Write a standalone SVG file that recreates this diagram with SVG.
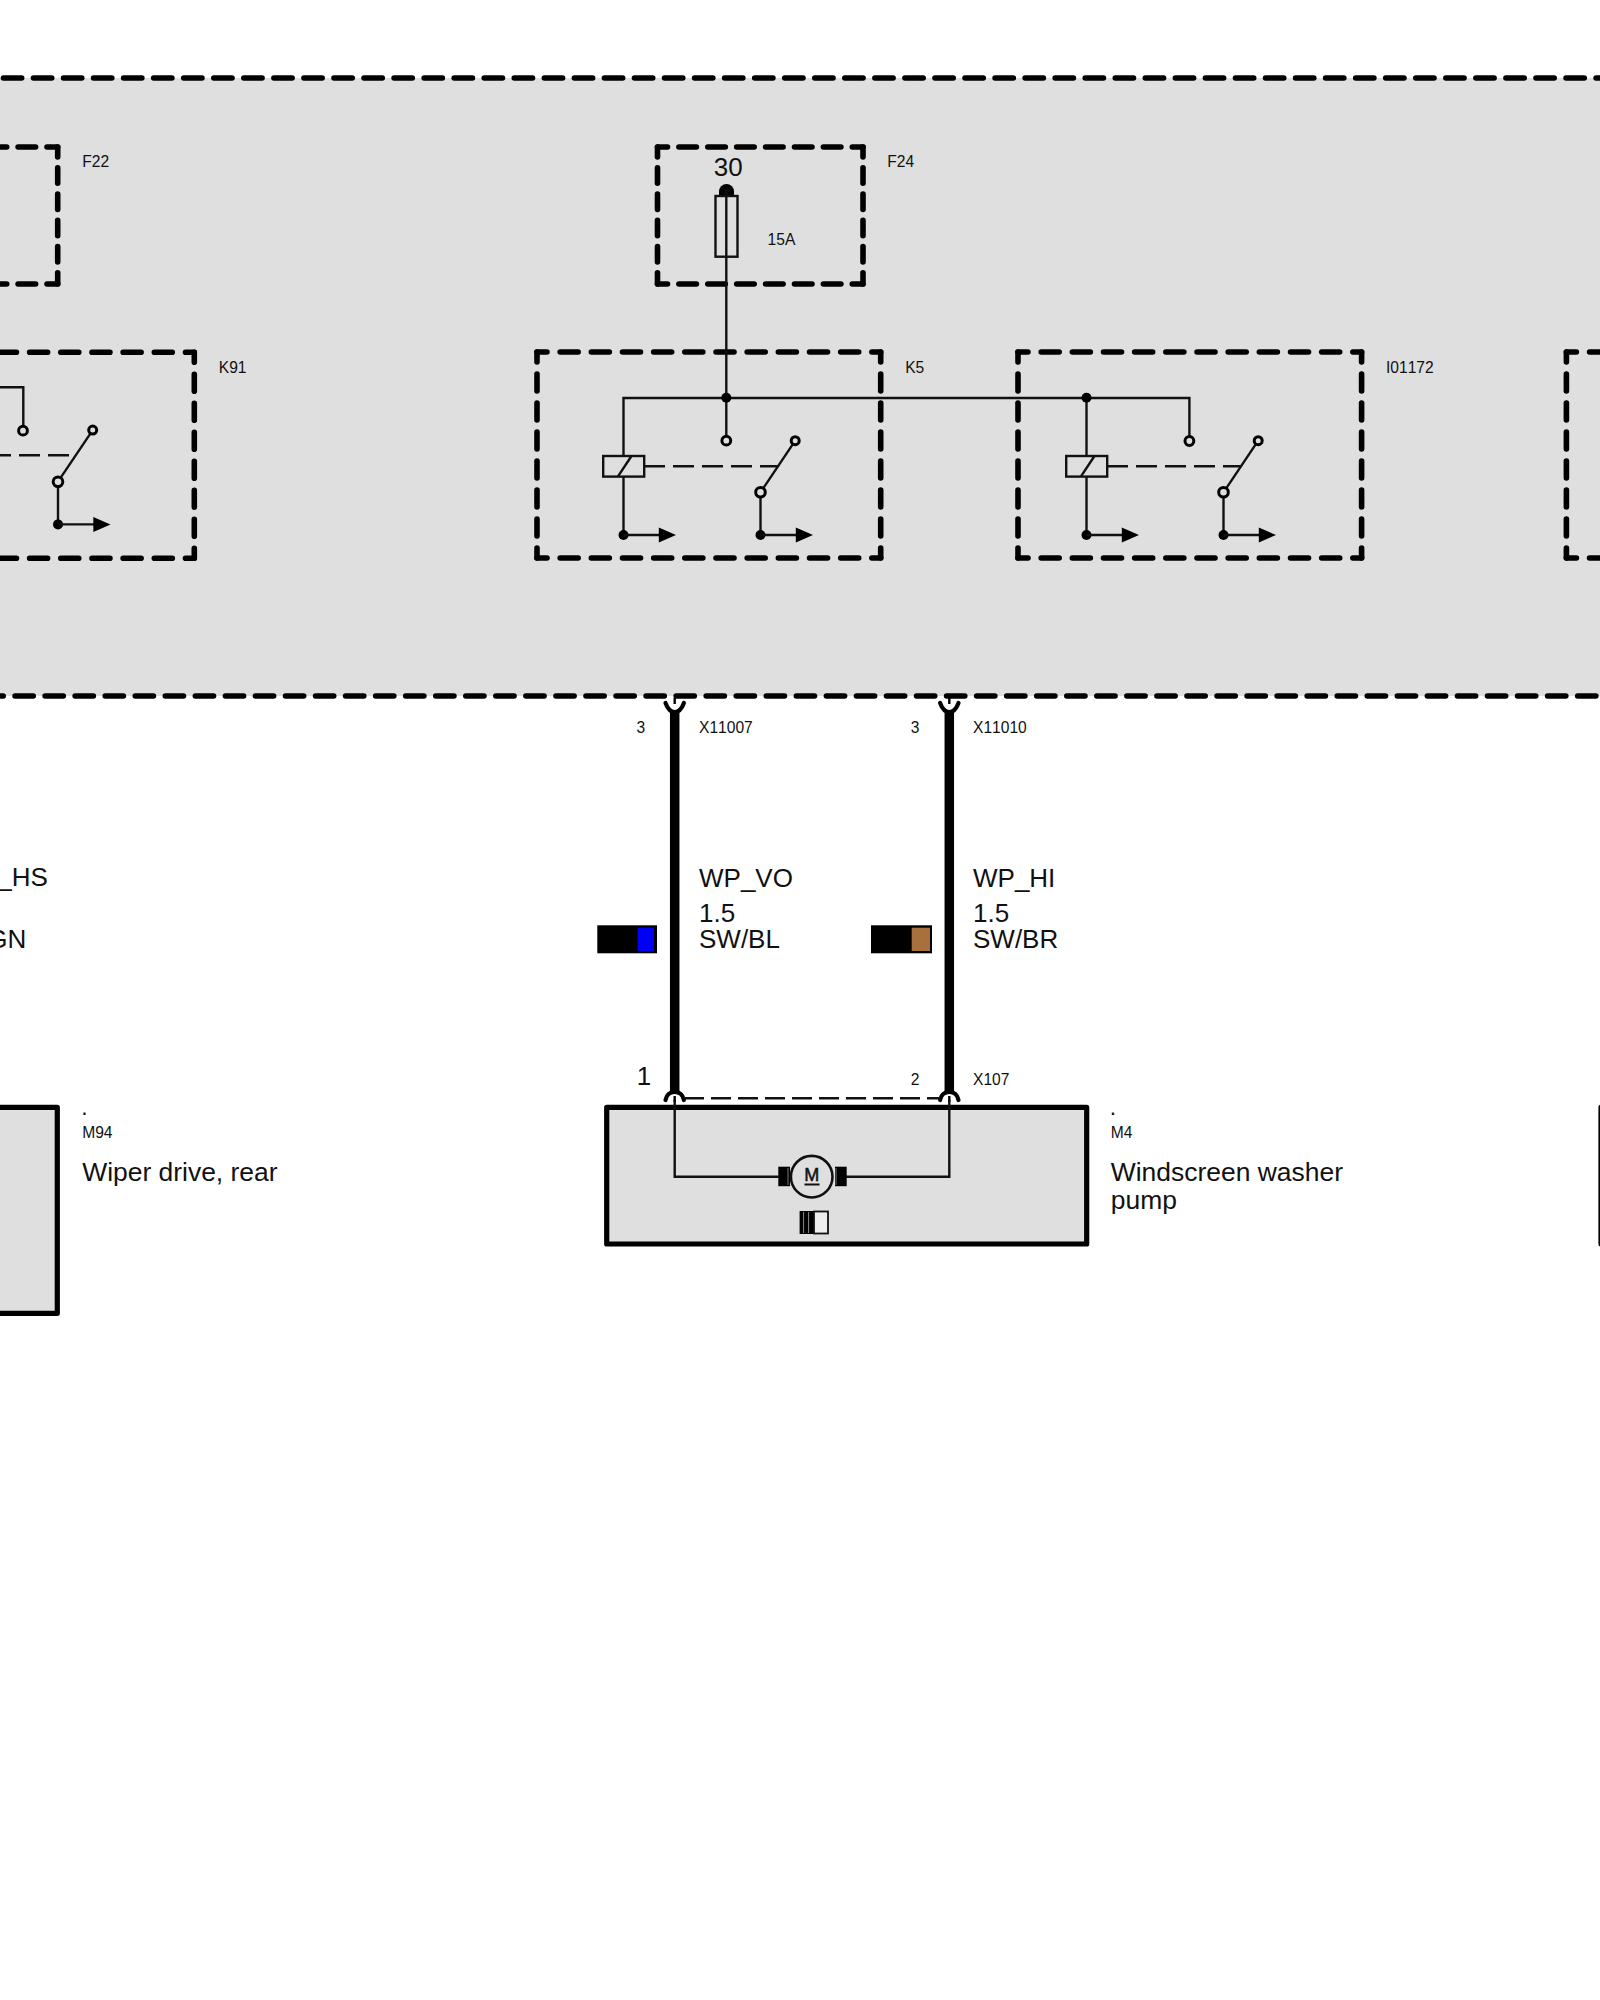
<svg xmlns="http://www.w3.org/2000/svg" xmlns:xlink="http://www.w3.org/1999/xlink" width="1600" height="2000" viewBox="0 0 1600 2000">
<style>
text{font-family:"Liberation Sans",Arial,sans-serif;fill:#111;font-kerning:none}
.s{font-size:15.6px}
.b{font-size:26px}
.n{font-size:26.45px}
.w{fill:none;stroke:#111;stroke-width:2.4}
.d{fill:none;stroke:#000;stroke-width:5.6;stroke-linecap:round;stroke-linejoin:miter}
.dash{fill:none;stroke:#111;stroke-width:2.4;stroke-dasharray:21 8}
.hv{fill:none;stroke:#000;stroke-width:9.5}
.cup{fill:none;stroke:#000;stroke-width:4.2;stroke-linecap:round}
.o{fill:#dfdfdf;stroke:#000;stroke-width:3}
.box{fill:#dfdfdf;stroke:#000;stroke-width:5.2;stroke-linejoin:round}
</style>
<defs>
<g id="ground"><circle r="5" fill="#000"/><line x2="36" class="w"/><path d="M35.3-7.5L52.5 0 35.3 7.5Z" fill="#000"/></g>
<g id="contact"><line x2="34.7" y2="-51.6" class="w"/><line y2="42.7" class="w"/><circle cx="34.7" cy="-51.6" r="4" class="o"/><circle r="4.8" class="o"/><use xlink:href="#ground" href="#ground" y="42.7"/></g>
<g id="coil"><line y1="58" y2="137" class="w"/><rect x="-20.3" y="58" width="41" height="20.6" fill="#dfdfdf" stroke="#111" stroke-width="2.4"/><line x1="-5.5" y1="78.4" x2="8" y2="58" class="w"/><use xlink:href="#ground" href="#ground" y="137"/></g>
<g id="cup"><path d="M-9.2 5C-7 11-3.5 14 0 14S7 11 9.2 5" class="cup"/><line y1="0" y2="6" stroke="#000" stroke-width="2.4"/></g>
<g id="cupu"><path d="M-9.2 7C-8 1-4 -1 0 -1S8 1 9.2 7" class="cup"/><line y1="3" y2="9" stroke="#000" stroke-width="2.4"/></g>
</defs>
<rect width="1600" height="2000" fill="#fff"/>

<g id="control-unit">
<rect x="0" y="78" width="1600" height="618" fill="#dfdfdf"/>
<line x1="0" y1="78" x2="1600" y2="78" class="d" stroke-dasharray="18.2 11.85" stroke-dashoffset="26.6"/>
<line x1="0" y1="696" x2="1600" y2="696" class="d" stroke-dasharray="18.2 11.85" stroke-dashoffset="15"/>
</g>

<g id="F22">
<path d="M-147.8 147H57.7M-147.8 284H57.7" class="d" stroke-dasharray="17.5 11.4" stroke-dashoffset="7.5"/>
<path d="M57.7 147V284" class="d" stroke-dasharray="15.5 10.75" stroke-dashoffset="5.5"/>
<text x="82.2" y="166.7" class="s">F22</text>
</g>

<g id="K91">
<path d="M-149.4 352.3H194.3M-149.4 558.3H194.3" class="d" stroke-dasharray="18 13.17" stroke-dashoffset="8"/>
<path d="M194.3 352.3V558.3" class="d" stroke-dasharray="17 12" stroke-dashoffset="7"/>
<path d="M0 387.3H23.3V430" class="w"/>
<circle cx="23" cy="430.7" r="4.4" class="o"/>
<line x1="0" y1="455.3" x2="75" y2="455.3" class="dash" stroke-dashoffset="10"/>
<use xlink:href="#contact" href="#contact" x="58" y="481.7"/>
<text x="218.8" y="373.3" class="s">K91</text>
</g>

<g id="F24">
<path d="M657.5 147H863M657.5 284H863" class="d" stroke-dasharray="17.5 11.4" stroke-dashoffset="7.5"/>
<path d="M657.5 147V284M863 147V284" class="d" stroke-dasharray="15.5 10.75" stroke-dashoffset="5.5"/>
<path d="M719 196V191.5A7.5 7.5 0 0 1 734 191.5V196Z" fill="#000"/>
<rect x="715.5" y="196" width="22" height="60.7" fill="none" stroke="#111" stroke-width="2.4"/>
<text x="713.8" y="176" class="b">30</text>
<text x="767.6" y="245.3" class="s">15A</text>
<text x="887.2" y="166.7" class="s">F24</text>
</g>

<g id="K5">
<path d="M537 352H880.7M537 558H880.7" class="d" stroke-dasharray="18 13.17" stroke-dashoffset="8"/>
<path d="M537 352V558M880.7 352V558" class="d" stroke-dasharray="17 12" stroke-dashoffset="7"/>
<text x="905.2" y="372.7" class="s">K5</text>
</g>

<g id="I01172">
<path d="M1018 352H1361.6M1018 558H1361.6" class="d" stroke-dasharray="18 13.17" stroke-dashoffset="8"/>
<path d="M1018 352V558M1361.6 352V558" class="d" stroke-dasharray="17 12" stroke-dashoffset="7"/>
<text x="1386" y="373.3" class="s">I01172</text>
</g>

<g id="next-relay">
<path d="M1566.4 352H1600M1566.4 558H1600" class="d" stroke-dasharray="18 13.17" stroke-dashoffset="8"/>
<path d="M1566.4 352V558" class="d" stroke-dasharray="17 12" stroke-dashoffset="7"/>
</g>

<g id="M94">
<rect x="-200" y="1107.3" width="257.3" height="206" class="box"/>
<text x="82.2" y="1115" class="s" font-weight="bold">.</text>
<text x="82.2" y="1138" class="s">M94</text>
<text x="82.2" y="1180.7" class="n">Wiper drive, rear</text>
</g>

<g id="M4">
<rect x="606.7" y="1107.3" width="480" height="136.7" class="box"/>
<g id="motor">
<rect x="778.3" y="1166.7" width="11.7" height="19.5" fill="#000"/>
<rect x="835" y="1166.7" width="11.7" height="19.5" fill="#000"/>
<line x1="788" y1="1168" x2="788" y2="1185" stroke="#777" stroke-width="1"/>
<line x1="836" y1="1168" x2="836" y2="1185" stroke="#777" stroke-width="1"/>
<circle cx="811.7" cy="1176.7" r="20.8" fill="#dfdfdf" stroke="#111" stroke-width="2.6"/>
<text x="811.7" y="1180.7" text-anchor="middle" style="font-size:18px;stroke:#111;stroke-width:.5">M</text>
<line x1="804.5" y1="1184.5" x2="819.5" y2="1184.5" stroke="#111" stroke-width="2"/>
</g>
<g id="connector-icon">
<rect x="799.6" y="1211" width="14.5" height="23" fill="#000"/>
<rect x="814" y="1211.5" width="14" height="22" fill="#eee" stroke="#111" stroke-width="1.8"/>
<path d="M803.6 1212V1233M808.6 1212V1233" stroke="#888" stroke-width="1"/>
</g>
<text x="1110.8" y="1115" class="s" font-weight="bold">.</text>
<text x="1110.8" y="1138" class="s">M4</text>
<text x="1110.8" y="1180.7" class="n">Windscreen washer</text>
<text x="1110.8" y="1209" class="n">pump</text>
</g>

<g id="right-box">
<rect x="1601" y="1107.3" width="100" height="136.7" class="box"/>
</g>

<g id="connectors">
<path d="M726.3 190V440M623.5 476V398H1189.4V441M1086.5 398V456" class="w"/>
<circle cx="726.3" cy="397.7" r="5" fill="#000"/>
<circle cx="1086.5" cy="397.7" r="5" fill="#000"/>
<circle cx="726.3" cy="440.7" r="4.4" class="o"/>
<circle cx="1189.4" cy="441" r="4.4" class="o"/>
<use xlink:href="#coil" href="#coil" x="623.5" y="398"/>
<use xlink:href="#coil" href="#coil" x="1086.5" y="398"/>
<line x1="644" y1="466.3" x2="778.3" y2="466.3" class="dash"/>
<line x1="1107" y1="466.3" x2="1241" y2="466.3" class="dash"/>
<use xlink:href="#contact" href="#contact" x="760.5" y="492.3"/>
<use xlink:href="#contact" href="#contact" x="1223.5" y="492.3"/>
<line x1="674.7" y1="712" x2="674.7" y2="1091" class="hv"/>
<line x1="949.3" y1="712" x2="949.3" y2="1091" class="hv"/>
<use xlink:href="#cup" href="#cup" x="674.7" y="698"/>
<use xlink:href="#cup" href="#cup" x="949.3" y="698"/>
<use xlink:href="#cupu" href="#cupu" x="674.7" y="1093"/>
<use xlink:href="#cupu" href="#cupu" x="949.3" y="1093"/>
<line x1="684" y1="1098.3" x2="940" y2="1098.3" class="w" stroke-dasharray="20 7"/>
<path d="M674.7 1100V1176.7H779M949.3 1100V1176.7H846" class="w"/>
</g>

<g id="wire-WP_VO">
<rect x="597.3" y="925.3" width="59.7" height="28" fill="#000"/>
<rect x="637.7" y="927.7" width="16.3" height="23.3" fill="#0000f5"/>
<text x="636.4" y="732.7" class="s">3</text>
<text x="699" y="732.7" class="s">X11007</text>
<text x="699" y="886.7" class="b">WP_VO</text>
<text x="699" y="921.7" class="b">1.5</text>
<text x="699" y="948.3" class="b">SW/BL</text>
<text x="636.8" y="1085" class="b">1</text>
</g>

<g id="wire-WP_HI">
<rect x="871" y="925.3" width="61" height="28" fill="#000"/>
<rect x="911.7" y="927.7" width="18.3" height="23.3" fill="#a8703c"/>
<text x="910.7" y="732.7" class="s">3</text>
<text x="973" y="732.7" class="s">X11010</text>
<text x="973" y="886.7" class="b">WP_HI</text>
<text x="973" y="921.7" class="b">1.5</text>
<text x="973" y="948.3" class="b">SW/BR</text>
<text x="910.7" y="1085" class="s">2</text>
<text x="973" y="1085" class="s">X107</text>
</g>

<g id="wire-left">
<text x="47.9" y="886.3" class="b" text-anchor="end">_HS</text>
<text x="26.2" y="948.3" class="b" text-anchor="end">GN</text>
</g>
</svg>
